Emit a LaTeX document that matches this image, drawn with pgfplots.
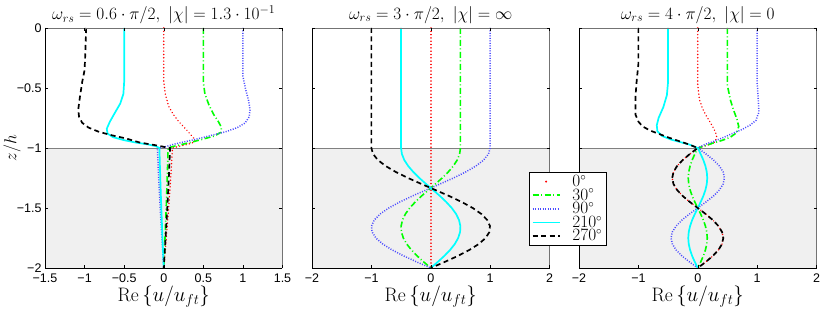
\documentclass[border=0pt]{standalone}
\usepackage{fontspec}
\usepackage{pgfplots}
\pgfplotsset{compat=1.18}
\newfontfamily\arial{Liberation Sans}
\definecolor{cgreen}{rgb}{0,1,0}
\definecolor{ccyan}{rgb}{0,1,1}
\definecolor{cblue}{rgb}{0.3,0.3,1}
\definecolor{cred}{rgb}{1,0,0}
\definecolor{bggray}{gray}{0.94}
\definecolor{framegray}{gray}{0.45}
\newcommand{\bg}{%
  \fill[bggray] (rel axis cs:0,0) rectangle (rel axis cs:1,0.5);
  \draw[gray, line width=0.6pt] (rel axis cs:0,0.5) -- (rel axis cs:1,0.5);}
\newcommand{\frameit}{%
  \draw[framegray, line width=0.5pt] (rel axis cs:0,1) -- (rel axis cs:1,1) -- (rel axis cs:1,0);
  \draw[black, line width=0.6pt] (rel axis cs:0,1) -- (rel axis cs:0,0) -- (rel axis cs:1,0);}
\newcommand{\lf}{\hspace*{10pt}\fontsize{16}{16}\selectfont}
\pgfplotsset{
  panel/.style={
    scale only axis, width=237.5pt, height=240pt,
    ymin=-2, ymax=0, ytick={-2,-1.5,-1,-0.5,0},
    axis on top, clip=false,
    axis line style={draw=none},
    tick align=inside, major tick length=3pt,
    tick style={black, line width=0.4pt},
    ticklabel style={font=\arial\fontsize{12.5}{14}\selectfont},
    xticklabel style={yshift=-2.5pt},
    title style={font=\fontsize{17.5}{20}\selectfont, at={(axis description cs:0.5,1)}, anchor=center, yshift=7pt},
    xlabel style={font=\fontsize{19.5}{21}\selectfont, at={(axis description cs:0.5,0)}, anchor=center, yshift=-29pt},
    ylabel style={font=\fontsize{19}{21}\selectfont, at={(axis description cs:-0.139,0.5)}, anchor=center},
    xlabel={$\mathrm{Re}\left\{u/u_{ft}\right\}$},
    legend image code/.code={\draw[#1] (0pt,0pt) -- (27pt,0pt);},
  },
  s0/.style={cred, line width=1.6pt, dash pattern=on 0.01pt off 3.3pt, line cap=round},
  s30/.style={cgreen, line width=1.6pt, dash pattern=on 6pt off 2.5pt on 1pt off 2.5pt},
  s90/.style={cblue, line width=1.5pt, dash pattern=on 1pt off 1.5pt},
  s210/.style={ccyan, line width=1.7pt},
  s270/.style={black, line width=1.7pt, dash pattern=on 5pt off 3.5pt},
}
\begin{document}
\begin{tikzpicture}
% ---------------- panel 1
\begin{axis}[panel, at={(0pt,0pt)},
  xmin=-1.5, xmax=1.5, xtick={-1.5,-1,-0.5,0,0.5,1,1.5},
  xticklabels={−1.5,−1,−0.5,0,0.5,1,1.5},
  yticklabels={−2,−1.5,−1,−0.5,0},
  ylabel={$z/h$},
  title={$\omega_{rs}=0.6\cdot\pi/2,\ |\chi|=1.3\cdot10^{-1}$}]
\bg
\addplot[s0] coordinates {(0,0) (0,-0.45) (0.02,-0.55) (0.06,-0.65) (0.12,-0.72) (0.19,-0.78) (0.26,-0.83) (0.33,-0.88) (0.38,-0.92) (0.39,-0.95) (0.3,-0.97) (0.2,-0.985) (0.11,-1.0)
 (0.088,-1.25) (0.062,-1.5) (0.032,-1.75) (0,-2)};
\addplot[s30] coordinates {(0.5,0) (0.5,-0.45) (0.52,-0.55) (0.57,-0.64) (0.63,-0.72) (0.69,-0.78) (0.73,-0.83) (0.72,-0.87) (0.64,-0.9) (0.5,-0.925) (0.36,-0.95) (0.2,-0.975) (0.1,-0.99) (0.055,-1.0)
 (0.044,-1.25) (0.031,-1.5) (0.016,-1.75) (0,-2)};
\addplot[s90] coordinates {(1.0,0) (1.0,-0.4) (1.03,-0.5) (1.07,-0.6) (1.09,-0.68) (1.08,-0.74) (1.03,-0.79) (0.93,-0.83) (0.78,-0.865) (0.6,-0.895) (0.42,-0.925) (0.25,-0.95) (0.12,-0.97) (0.02,-0.99) (-0.08,-1.0)
 (-0.064,-1.25) (-0.045,-1.5) (-0.023,-1.75) (0,-2)};
\addplot[s210] coordinates {(-0.5,0) (-0.5,-0.45) (-0.51,-0.55) (-0.55,-0.63) (-0.62,-0.71) (-0.68,-0.78) (-0.72,-0.84) (-0.71,-0.88) (-0.64,-0.91) (-0.5,-0.935) (-0.35,-0.955) (-0.2,-0.97) (-0.1,-0.985) (-0.055,-1.0)
 (-0.044,-1.25) (-0.031,-1.5) (-0.016,-1.75) (0,-2)};
\addplot[s270] coordinates {(-0.98,0) (-0.99,-0.2) (-1.0,-0.35) (-1.03,-0.45) (-1.06,-0.58) (-1.08,-0.68) (-1.07,-0.74) (-1.03,-0.79) (-0.95,-0.83) (-0.82,-0.865) (-0.65,-0.895) (-0.48,-0.92) (-0.3,-0.955) (-0.12,-0.975) (0.0,-0.99) (0.08,-1.0)
 (0.064,-1.25) (0.045,-1.5) (0.023,-1.75) (0,-2)};
\frameit
\end{axis}
% ---------------- panel 2
\begin{axis}[panel, at={(267pt,0pt)},
  xmin=-2, xmax=2, xtick={-2,-1,0,1,2},
  xticklabels={−2,−1,0,1,2},
  yticklabels={},
  title={$\omega_{rs}=3\cdot\pi/2,\ |\chi|=\infty$}]
\bg
\addplot[s0] coordinates {(0,0) (0,-2)};
\addplot[s30] coordinates {(0.5,0) (0.5,-1) (0.486,-1.05) (0.446,-1.1) (0.380,-1.15) (0.294,-1.2) (0.192,-1.25) (0.078,-1.3) (-0.039,-1.35) (-0.155,-1.4) (-0.261,-1.45) (-0.354,-1.5) (-0.427,-1.55) (-0.476,-1.6) (-0.499,-1.65) (-0.494,-1.7) (-0.462,-1.75) (-0.405,-1.8) (-0.325,-1.85) (-0.227,-1.9) (-0.117,-1.95) (0,-2)};
\addplot[s90] coordinates {(1,0) (1,-1) (0.972,-1.05) (0.891,-1.1) (0.760,-1.15) (0.588,-1.2) (0.383,-1.25) (0.156,-1.3) (-0.078,-1.35) (-0.309,-1.4) (-0.522,-1.45) (-0.707,-1.5) (-0.853,-1.55) (-0.951,-1.6) (-0.997,-1.65) (-0.988,-1.7) (-0.924,-1.75) (-0.809,-1.8) (-0.649,-1.85) (-0.454,-1.9) (-0.233,-1.95) (0,-2)};
\addplot[s210] coordinates {(-0.5,0) (-0.5,-1) (-0.486,-1.05) (-0.446,-1.1) (-0.380,-1.15) (-0.294,-1.2) (-0.192,-1.25) (-0.078,-1.3) (0.039,-1.35) (0.155,-1.4) (0.261,-1.45) (0.354,-1.5) (0.427,-1.55) (0.476,-1.6) (0.499,-1.65) (0.494,-1.7) (0.462,-1.75) (0.405,-1.8) (0.325,-1.85) (0.227,-1.9) (0.117,-1.95) (0,-2)};
\addplot[s270] coordinates {(-1,0) (-1,-1) (-0.972,-1.05) (-0.891,-1.1) (-0.760,-1.15) (-0.588,-1.2) (-0.383,-1.25) (-0.156,-1.3) (0.078,-1.35) (0.309,-1.4) (0.522,-1.45) (0.707,-1.5) (0.853,-1.55) (0.951,-1.6) (0.997,-1.65) (0.988,-1.7) (0.924,-1.75) (0.809,-1.8) (0.649,-1.85) (0.454,-1.9) (0.233,-1.95) (0,-2)};
\frameit
\end{axis}
% ---------------- panel 3
\begin{axis}[panel, at={(534pt,0pt)},
  xmin=-2, xmax=2, xtick={-2,-1,0,1,2},
  xticklabels={−2,−1,0,1,2},
  yticklabels={},
  title={$\omega_{rs}=4\cdot\pi/2,\ |\chi|=0$},
  legend cell align=left,
  legend style={at={(axis description cs:-0.2105,0.4)}, anchor=north west,
    draw=black, line width=0.5pt, fill=white,
    inner xsep=2.5pt, inner ysep=1.5pt, row sep=-2pt,
    nodes={inner xsep=2pt, inner ysep=1.5pt}}]
\bg
\addplot[s0, legend image code/.code={\fill[red,draw=none] (13.5pt,0pt) circle (1.1pt); \path[draw=none,fill=none] (0pt,0pt) -- (27pt,0pt);}] coordinates {(0,0) (0,-0.48) (0.03,-0.6) (0.08,-0.67) (0.13,-0.72) (0.19,-0.77) (0.25,-0.82) (0.3,-0.87) (0.32,-0.91) (0.29,-0.95) (0.2,-0.97) (0.1,-0.985) (0,-1.0)
 (-0.133,-1.05) (-0.253,-1.1) (-0.348,-1.15) (-0.409,-1.2) (-0.43,-1.25) (-0.409,-1.3) (-0.348,-1.35) (-0.253,-1.4) (-0.133,-1.45) (0,-1.5) (0.133,-1.55) (0.253,-1.6) (0.348,-1.65) (0.409,-1.7) (0.43,-1.75) (0.409,-1.8) (0.348,-1.85) (0.253,-1.9) (0.133,-1.95) (0,-2)};
\addlegendentry{\lf$0^\circ$}
\addplot[s30] coordinates {(0.5,0) (0.5,-0.48) (0.55,-0.6) (0.6,-0.68) (0.66,-0.76) (0.69,-0.82) (0.66,-0.87) (0.55,-0.91) (0.42,-0.935) (0.25,-0.96) (0.1,-0.985) (0,-1.0)
 (-0.049,-1.05) (-0.094,-1.1) (-0.129,-1.15) (-0.152,-1.2) (-0.16,-1.25) (-0.152,-1.3) (-0.129,-1.35) (-0.094,-1.4) (-0.049,-1.45) (0,-1.5) (0.049,-1.55) (0.094,-1.6) (0.129,-1.65) (0.152,-1.7) (0.16,-1.75) (0.152,-1.8) (0.129,-1.85) (0.094,-1.9) (0.049,-1.95) (0,-2)};
\addlegendentry{\lf$30^\circ$}
\addplot[s90] coordinates {(1.0,0) (1.0,-0.45) (1.02,-0.6) (1.03,-0.7) (0.98,-0.77) (0.88,-0.81) (0.75,-0.845) (0.58,-0.88) (0.42,-0.915) (0.27,-0.945) (0.12,-0.97) (0,-1.0)
 (0.139,-1.05) (0.265,-1.1) (0.364,-1.15) (0.428,-1.2) (0.45,-1.25) (0.428,-1.3) (0.364,-1.35) (0.265,-1.4) (0.139,-1.45) (0,-1.5) (-0.139,-1.55) (-0.265,-1.6) (-0.364,-1.65) (-0.428,-1.7) (-0.45,-1.75) (-0.428,-1.8) (-0.364,-1.85) (-0.265,-1.9) (-0.139,-1.95) (0,-2)};
\addlegendentry{\lf$90^\circ$}
\addplot[s210] coordinates {(-0.5,0) (-0.5,-0.45) (-0.52,-0.56) (-0.58,-0.66) (-0.66,-0.75) (-0.69,-0.81) (-0.68,-0.86) (-0.6,-0.9) (-0.45,-0.93) (-0.3,-0.95) (-0.15,-0.97) (0,-1.0)
 (0.049,-1.05) (0.094,-1.1) (0.129,-1.15) (0.152,-1.2) (0.16,-1.25) (0.152,-1.3) (0.129,-1.35) (0.094,-1.4) (0.049,-1.45) (0,-1.5) (-0.049,-1.55) (-0.094,-1.6) (-0.129,-1.65) (-0.152,-1.7) (-0.16,-1.75) (-0.152,-1.8) (-0.129,-1.85) (-0.094,-1.9) (-0.049,-1.95) (0,-2)};
\addlegendentry{\lf$210^\circ$}
\addplot[s270] coordinates {(-1.0,0) (-1.0,-0.3) (-1.03,-0.45) (-1.05,-0.58) (-1.05,-0.72) (-1.0,-0.78) (-0.93,-0.82) (-0.8,-0.855) (-0.64,-0.885) (-0.48,-0.915) (-0.3,-0.945) (-0.15,-0.97) (0,-1.0)
 (-0.133,-1.05) (-0.253,-1.1) (-0.348,-1.15) (-0.409,-1.2) (-0.43,-1.25) (-0.409,-1.3) (-0.348,-1.35) (-0.253,-1.4) (-0.133,-1.45) (0,-1.5) (0.133,-1.55) (0.253,-1.6) (0.348,-1.65) (0.409,-1.7) (0.43,-1.75) (0.409,-1.8) (0.348,-1.85) (0.253,-1.9) (0.133,-1.95) (0,-2)};
\addlegendentry{\lf$270^\circ$}
\frameit
\end{axis}
\pgfresetboundingbox
\path (-45pt,-45pt) rectangle (785pt,268pt);
\end{tikzpicture}
\end{document}
